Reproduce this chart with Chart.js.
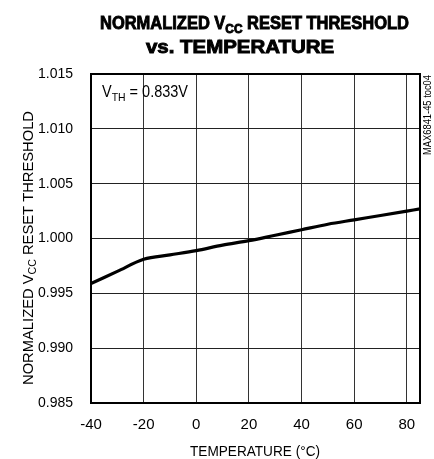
<!DOCTYPE html>
<html>
<head>
<meta charset="utf-8">
<script src="https://cdn.jsdelivr.net/npm/chart.js@4.4.1/dist/chart.umd.min.js"></script>
<style>
  html, body { margin: 0; padding: 0; background: #fff; }
  #wrap { position: relative; width: 434px; height: 459px; }
</style>
</head>
<body>
<div id="wrap"><canvas id="chart" width="434" height="459"></canvas></div>
<script>
// --- data ---
const temps = [-40, -30, -20, -10, 0, 10, 20, 30, 40, 50, 60, 70, 80, 85];
const threshold = [0.9959, 0.9970, 0.9981, 0.9985, 0.9989, 0.9994, 0.9998, 1.0003, 1.0008, 1.0013, 1.0017, 1.0021, 1.0025, 1.0027];
const xTicks = [-40, -20, 0, 20, 40, 60, 80];
const yTicks = [0.985, 0.990, 0.995, 1.000, 1.005, 1.010, 1.015];

const FONT = '"Liberation Sans", Arial, sans-serif';

function fontOf(s, size, weight) {
  return (weight || '') + ' ' + (s[1] ? size * 0.72 : size) + 'px ' + FONT;
}
function measureSegs(ctx, segs, size, weight) {
  let total = 0;
  segs.forEach(s => { ctx.font = fontOf(s, size, weight); total += ctx.measureText(s[0]).width; });
  return total;
}
// text with subscript parts, squeezed horizontally by sx. segs: [[text, isSub], ...]
function drawSegs(ctx, segs, x, y, sx, size, weight, heavy) {
  ctx.save();
  ctx.translate(x, y);
  ctx.scale(sx, 1);
  ctx.textAlign = 'left';
  ctx.textBaseline = 'alphabetic';
  let cx = 0;
  segs.forEach(s => {
    ctx.font = fontOf(s, size, weight);
    const dy = s[1] ? size * 0.22 : 0;
    ctx.fillText(s[0], cx, dy);
    if (heavy) { ctx.lineWidth = heavy; ctx.strokeText(s[0], cx, dy); }
    cx += ctx.measureText(s[0]).width;
  });
  ctx.restore();
}
function drawFit(ctx, segs, x, y, width, size, weight, heavy) {
  drawSegs(ctx, segs, x, y, width / measureSegs(ctx, segs, size, weight), size, weight, heavy);
}

const decor = {
  id: 'decor',
  afterDraw(chart) {
    const ctx = chart.ctx, a = chart.chartArea;
    ctx.save();
    ctx.fillStyle = '#000';
    ctx.strokeStyle = '#000';

    // title
    drawFit(ctx, [['NORMALIZED V'], ['CC', true], [' RESET THRESHOLD']], 100, 29, 309, 18, 'bold', 0.9);
    drawFit(ctx, [['vs. TEMPERATURE']], 146, 53, 188, 18, 'bold', 0.9);

    // frame
    ctx.lineWidth = 2;
    ctx.strokeRect(a.left, a.top, a.right - a.left, a.bottom - a.top);

    // annotation
    drawFit(ctx, [['V'], ['TH', true], [' = 0.833V']], 102, 97, 86, 16);

    // x-axis title
    drawFit(ctx, [['TEMPERATURE (\u00B0C)']], 190, 456, 130, 15);

    // y-axis title
    ctx.save();
    ctx.translate(33, 385);
    ctx.rotate(-Math.PI / 2);
    drawFit(ctx, [['NORMALIZED V'], ['CC', true], [' RESET THRESHOLD']], 0, 0, 274, 15);
    ctx.restore();

    // side code
    ctx.save();
    ctx.translate(431, 155);
    ctx.rotate(-Math.PI / 2);
    drawFit(ctx, [['MAX6841-45 toc04']], 0, 0, 80, 10);
    ctx.restore();

    ctx.restore();
  }
};

new Chart(document.getElementById('chart'), {
  type: 'line',
  data: {
    datasets: [{
      data: temps.map((t, i) => ({ x: t, y: threshold[i] })),
      borderColor: '#000',
      borderWidth: 3.2,
      pointRadius: 0,
      cubicInterpolationMode: 'monotone',
      fill: false
    }]
  },
  options: {
    responsive: false,
    animation: false,
    events: [],
    layout: { padding: { top: 74, right: 14, left: 0, bottom: 0 } },
    plugins: { legend: { display: false }, tooltip: { enabled: false }, title: { display: false } },
    scales: {
      x: {
        type: 'linear', min: -40, max: 85,
        afterBuildTicks: s => { s.ticks = xTicks.map(v => ({ value: v })); },
        afterFit: s => { s.height = 56; },
        grid: { color: '#333', lineWidth: 1, drawTicks: false },
        border: { display: false },
        ticks: { color: '#000', font: { family: FONT, size: 15 }, padding: 13, maxRotation: 0 }
      },
      y: {
        type: 'linear', min: 0.985, max: 1.015,
        afterBuildTicks: s => { s.ticks = yTicks.map(v => ({ value: v })); },
        afterFit: s => { s.width = 91; },
        grid: { color: '#222', lineWidth: 1, drawTicks: false },
        border: { display: false },
        ticks: { color: '#000', font: { family: FONT, size: 14 }, padding: 18, callback: v => v.toFixed(3) }
      }
    }
  },
  plugins: [decor]
});
</script>
</body>
</html>
